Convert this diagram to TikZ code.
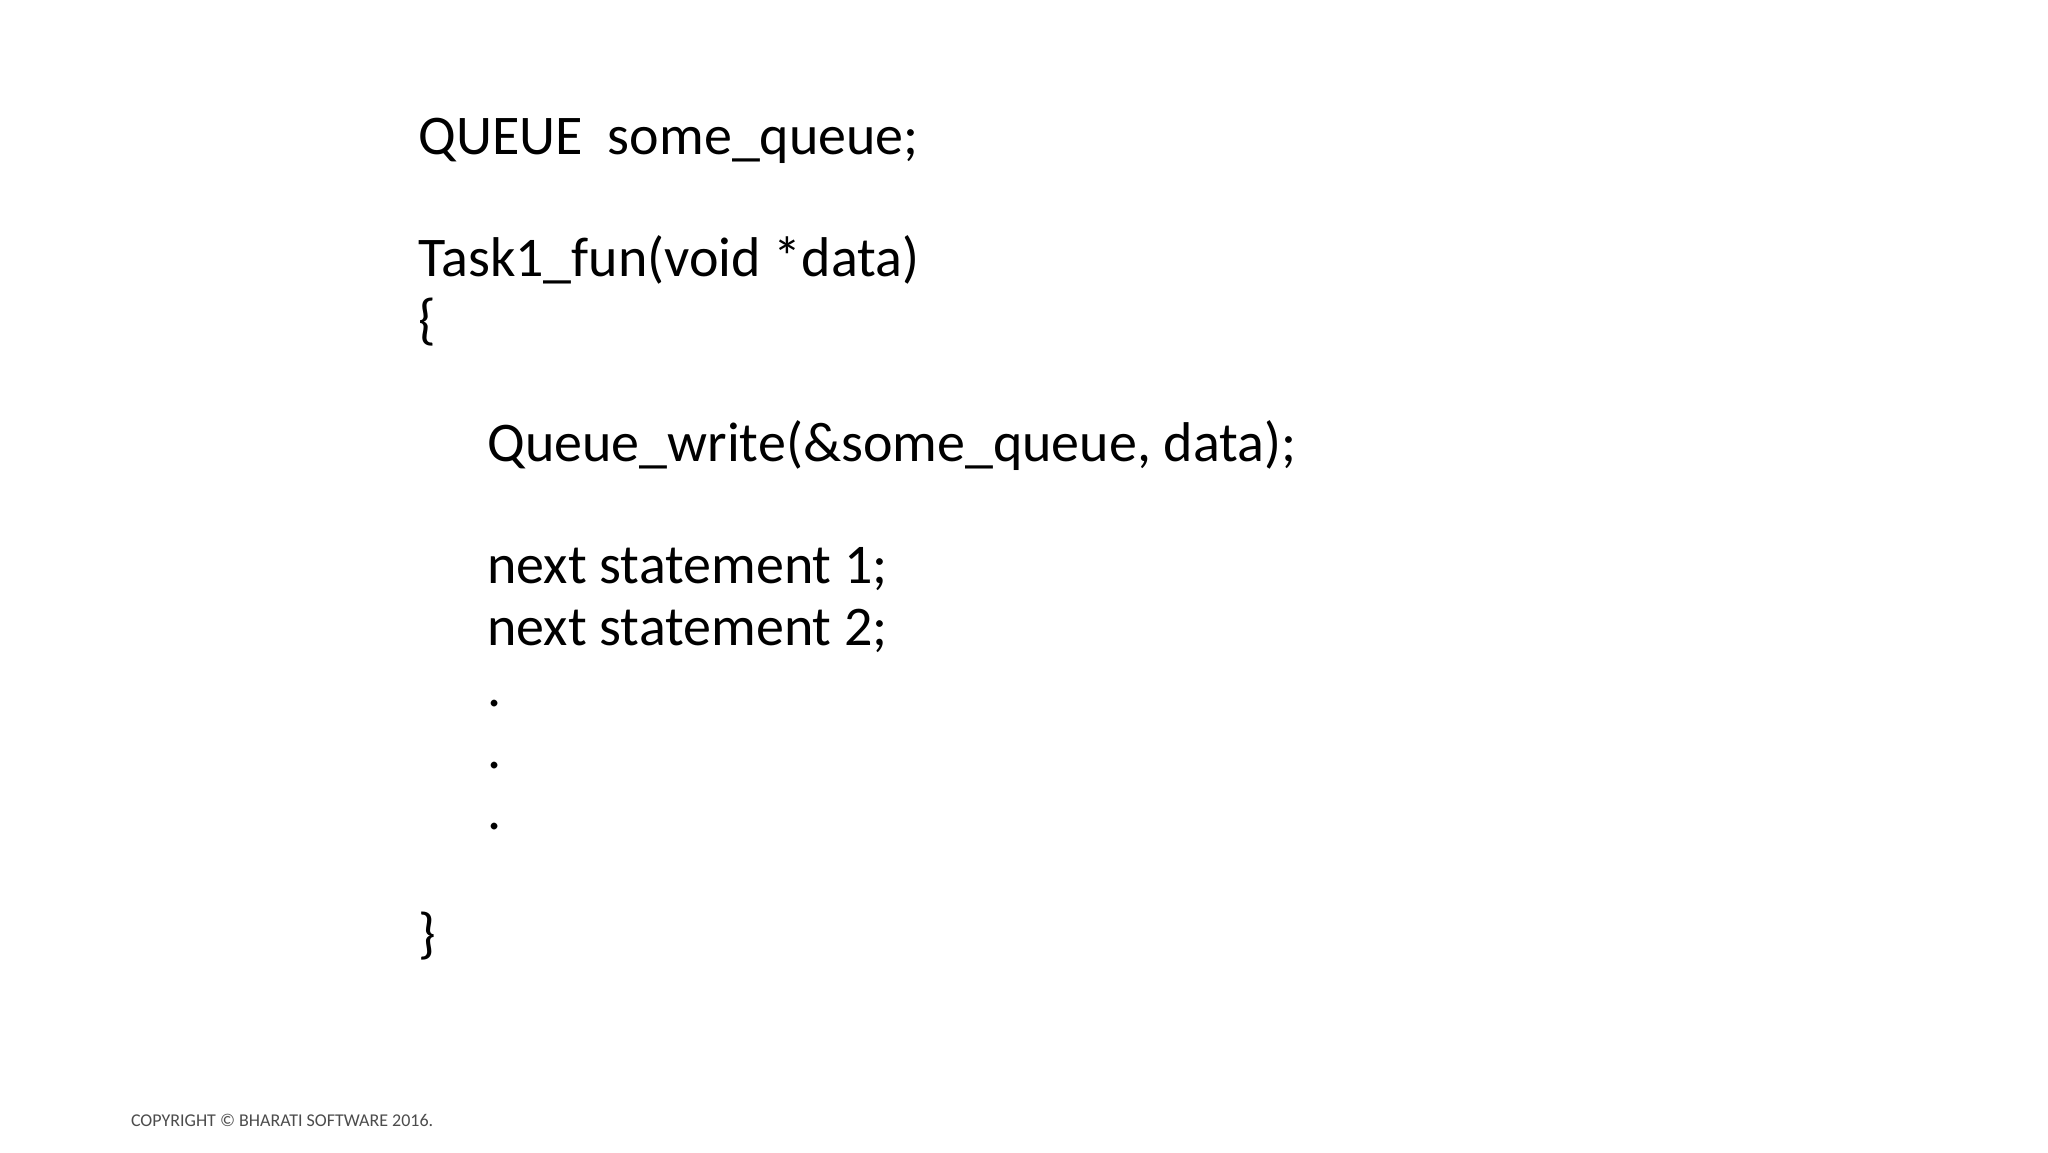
\documentclass[tikz,border=0pt]{standalone}
\usepackage{fontspec}
\setmainfont{Carlito}
\begin{document}
\begin{tikzpicture}[x=1pt,y=1pt,
  code/.style={anchor=base west,inner sep=0pt,font=\fontsize{28}{34}\selectfont},
  copy/.style={anchor=base west,inner sep=0pt,font=\fontsize{9}{11}\selectfont,text=black!70}]
\useasboundingbox[fill=white] (0,0) rectangle (1024,-576);
\def\L{209}\def\I{243.5}
\node[code] (q) at (\L,-77) {QUEUE\ \ some\_queue;};
\node[code] (t) at (\L,-138.4) {Task1\_fun(void *data)};
\node[code] (ob) at (\L,-169.1) {\{};
\node[code] (w) at (\I,-230.5) {Queue\_write(\&some\_queue, data);};
\node[code] (n1) at (\I,-291.9) {next statement 1;};
\node[code] (n2) at (\I,-322.6) {next statement 2;};
\node[code] (d1) at (\I,-353.3) {.};
\node[code] (d2) at (\I,-384.0) {.};
\node[code] (d3) at (\I,-414.7) {.};
\node[code] (cb) at (\L,-476.1) {\}};
\node[copy] (c) at (65.3,-563) {COPYRIGHT © BHARATI SOFTWARE 2016.};
\end{tikzpicture}
\end{document}
